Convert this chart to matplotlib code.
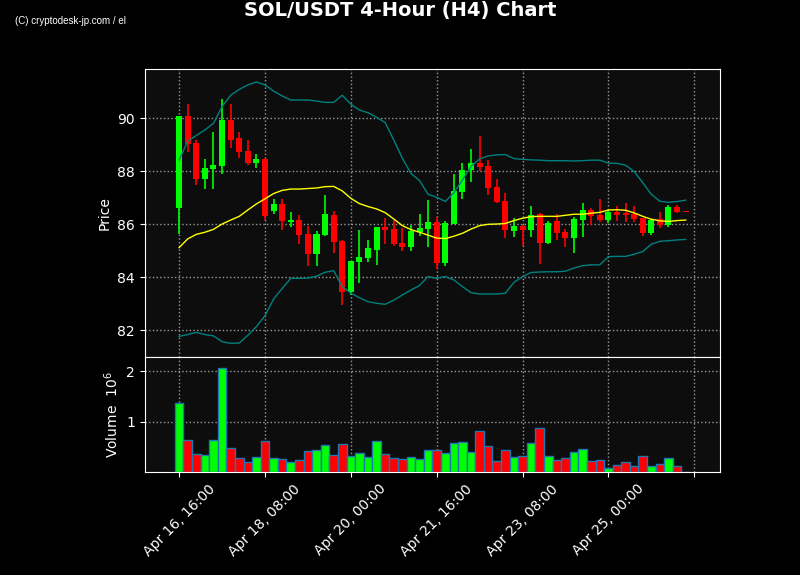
import matplotlib
matplotlib.use('Agg')
import matplotlib.pyplot as plt
from matplotlib.ticker import FuncFormatter
import numpy as np

# SOL/USDT 4h candles, starting Apr 16 16:00
opens = [86.63, 90.09, 89.07, 87.72, 88.10, 88.21, 89.92, 89.26, 88.77, 88.33,
         88.48, 86.50, 86.77, 86.10, 86.16, 85.64, 84.88, 85.60, 86.35, 85.38,
         83.46, 84.59, 84.74, 85.04, 85.90, 85.82, 85.30, 85.14, 85.70, 85.84,
         86.09, 84.55, 86.01, 87.23, 88.06, 88.31, 88.20, 87.41, 86.88, 85.76,
         85.94, 85.79, 86.39, 85.31, 86.12, 85.71, 85.48, 86.16, 86.53, 86.35,
         86.16, 86.47, 86.42, 86.38, 86.23, 85.69, 86.19, 85.99, 86.64, 86.49]
highs = [90.10, 90.53, 89.17, 88.45, 89.50, 90.72, 90.55, 89.47, 89.17, 88.64,
         88.52, 86.97, 86.97, 86.45, 86.36, 85.95, 85.74, 87.12, 86.49, 85.40,
         84.62, 85.77, 85.41, 85.90, 86.23, 86.15, 85.85, 85.97, 86.38, 86.91,
         86.29, 86.14, 87.89, 88.33, 88.86, 89.32, 88.43, 87.72, 87.17, 86.25,
         85.98, 86.68, 86.43, 86.14, 86.38, 85.81, 86.29, 86.79, 86.60, 86.94,
         86.54, 86.69, 86.79, 86.69, 86.25, 86.20, 86.45, 86.73, 86.73, 86.50]
lows = [85.62, 88.72, 87.47, 87.35, 87.35, 87.91, 88.87, 88.52, 88.24, 88.14,
        86.15, 86.40, 85.77, 85.91, 85.25, 84.44, 84.44, 85.55, 84.91, 82.96,
        83.33, 83.77, 84.57, 84.47, 85.25, 85.19, 85.01, 85.01, 85.55, 85.14,
        84.31, 84.44, 86.00, 86.97, 87.58, 88.00, 87.11, 86.80, 85.47, 85.51,
        85.19, 85.53, 84.49, 85.26, 85.40, 85.16, 84.93, 85.53, 85.96, 86.10,
        86.04, 86.13, 86.09, 86.10, 85.55, 85.61, 85.85, 85.91, 86.42, 86.47]
closes = [90.09, 89.03, 87.72, 88.13, 88.24, 89.94, 89.19, 88.74, 88.33, 88.47,
          86.30, 86.77, 86.14, 86.18, 85.61, 84.88, 85.64, 86.39, 85.35, 83.46,
          84.62, 84.77, 85.11, 85.90, 85.79, 85.26, 85.16, 85.75, 85.86, 86.09,
          84.55, 86.04, 87.26, 88.04, 88.30, 88.18, 87.36, 86.86, 85.79, 85.95,
          85.79, 86.35, 85.31, 86.04, 85.69, 85.48, 86.20, 86.54, 86.31, 86.16,
          86.47, 86.35, 86.36, 86.20, 85.69, 86.18, 85.99, 86.65, 86.47, 86.48]
volumes = [1360000, 640000, 360000, 340000, 640000, 2070000, 480000, 280000, 190000, 300000,
           620000, 280000, 260000, 190000, 230000, 420000, 440000, 540000, 340000, 560000,
           320000, 380000, 300000, 620000, 360000, 280000, 250000, 300000, 250000, 440000,
           440000, 380000, 580000, 600000, 400000, 820000, 510000, 210000, 440000, 300000,
           320000, 580000, 880000, 320000, 230000, 280000, 400000, 460000, 210000, 230000,
           90000, 150000, 190000, 130000, 320000, 130000, 170000, 280000, 130000, 10000]

# Bollinger bands (20, 2) as drawn
bb_mid = [85.12, 85.45, 85.62, 85.70, 85.81, 86.01, 86.16, 86.30, 86.54, 86.77,
          86.96, 87.16, 87.28, 87.33, 87.33, 87.35, 87.37, 87.42, 87.43, 87.26,
          86.98, 86.78, 86.67, 86.58, 86.44, 86.20, 85.95, 85.80, 85.70, 85.59,
          85.48, 85.46, 85.55, 85.66, 85.82, 85.95, 86.00, 86.01, 86.03, 86.14,
          86.23, 86.29, 86.30, 86.30, 86.30, 86.34, 86.38, 86.38, 86.42, 86.45,
          86.54, 86.55, 86.53, 86.43, 86.30, 86.19, 86.13, 86.11, 86.14, 86.16]
bb_upper = [88.43, 89.14, 89.35, 89.56, 89.81, 90.44, 90.87, 91.09, 91.26, 91.37,
            91.26, 91.03, 90.84, 90.69, 90.69, 90.69, 90.65, 90.60, 90.60, 90.87,
            90.53, 90.31, 90.21, 90.04, 89.84, 89.18, 88.49, 87.92, 87.65, 87.13,
            87.02, 86.86, 87.19, 87.67, 88.18, 88.47, 88.58, 88.62, 88.63, 88.48,
            88.45, 88.43, 88.42, 88.40, 88.40, 88.40, 88.39, 88.40, 88.42, 88.42,
            88.31, 88.30, 88.23, 87.99, 87.57, 87.13, 86.87, 86.83, 86.86, 86.91]
bb_lower = [81.77, 81.84, 81.92, 81.84, 81.79, 81.57, 81.51, 81.52, 81.81, 82.14,
            82.55, 83.18, 83.58, 83.96, 83.96, 83.97, 84.04, 84.19, 84.25, 83.65,
            83.40, 83.23, 83.08, 83.02, 82.98, 83.14, 83.33, 83.52, 83.69, 84.03,
            83.96, 84.03, 83.90, 83.65, 83.42, 83.37, 83.37, 83.37, 83.40, 83.81,
            84.03, 84.18, 84.20, 84.21, 84.21, 84.23, 84.35, 84.44, 84.47, 84.47,
            84.78, 84.79, 84.79, 84.87, 84.97, 85.25, 85.36, 85.38, 85.41, 85.43]

tick_pos = [0, 10, 20, 30, 40, 50, 60]
tick_labels = ['Apr 16, 16:00', 'Apr 18, 08:00', 'Apr 20, 00:00', 'Apr 21, 16:00',
               'Apr 23, 08:00', 'Apr 25, 00:00', '']

GREEN = '#00ff00'
RED = '#ff0000'
BG = '#0d0d0d'

x = np.arange(len(opens))
o = np.array(opens)
c = np.array(closes)
up = c > o
colors = [GREEN if u else RED for u in up]

fig = plt.figure(figsize=(8, 5.75), dpi=100, facecolor='black')
ax = fig.add_axes([0.181, 0.379, 0.719, 0.501])
axv = fig.add_axes([0.181, 0.179, 0.719, 0.2], sharex=ax)

for a in (ax, axv):
    a.set_facecolor(BG)
    for s in a.spines.values():
        s.set_color('white')
    a.tick_params(colors='white', labelsize=10)
    a.grid(True, color='#999999', linestyle=':', linewidth=1)
    a.set_axisbelow(True)

# candles
ax.vlines(x, lows, highs, colors=colors, linewidth=1.2, zorder=2)
ax.bar(x, np.abs(c - o), bottom=np.minimum(o, c), width=0.7, color=colors, zorder=3)

# bollinger
ax.plot(x, bb_upper, color='#008080', linewidth=1, zorder=4)
ax.plot(x, bb_lower, color='#008080', linewidth=1, zorder=4)
ax.plot(x, bb_mid, color='#ffff00', linewidth=1, zorder=4)

ax.set_ylim(80.99, 91.86)
ax.set_yticks([82, 84, 86, 88, 90])
ax.set_ylabel('Price', color='white', fontsize=10)
ax.set_xlim(-4, 63)
plt.setp(ax.get_xticklabels(), visible=False)

# volume
axv.bar(x, volumes, width=1.0, color=colors, edgecolor='#1f77b4', linewidth=1, zorder=3)
axv.set_ylim(0, 2.28e6)
axv.set_yticks([1e6, 2e6])
axv.yaxis.set_major_formatter(FuncFormatter(lambda v, p: '%d' % round(v / 1e6)))
axv.set_ylabel('Volume  $10^6$', color='white', fontsize=10)
axv.set_xticks(tick_pos)
axv.set_xticklabels(tick_labels, rotation=45, ha='center')

fig.text(0.5, 0.981, 'SOL/USDT 4-Hour (H4) Chart', color='white', fontsize=14,
         fontweight='bold', ha='center', va='center')
fig.text(0.019, 0.963, '(C) cryptodesk-jp.com / el', color='white', fontsize=7,
         family='Liberation Sans', ha='left', va='center')

fig.savefig('out.png', dpi=100, facecolor='black')
